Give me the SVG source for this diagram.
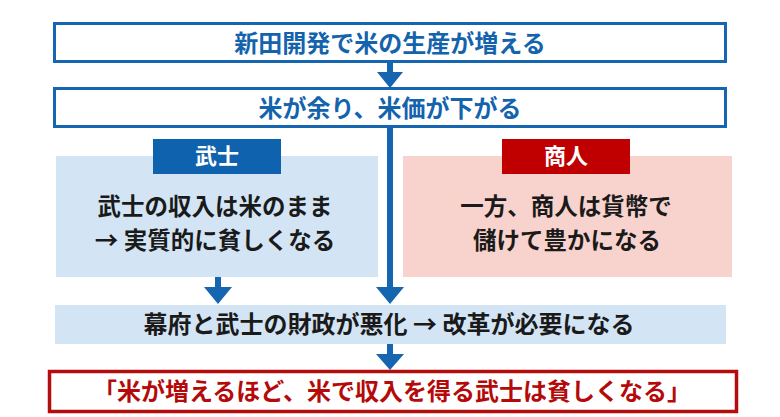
<svg xmlns="http://www.w3.org/2000/svg" width="780" height="417" viewBox="0 0 780 417">
<defs>
<style>
text{font-family:"Noto Sans CJK JP","Noto Sans",sans-serif;font-weight:700;text-anchor:middle}
.blue{fill:#1463ad}
.dark{fill:#1a1a1a}
.white{fill:#ffffff}
.red{fill:#b50a0a}
.bbox{fill:#ffffff;stroke:#1565b0;stroke-width:3}
.arr{fill:#1565b0}
</style>
</defs>
<rect width="780" height="417" fill="#ffffff"/>
<g id="connectors">
<path class="arr" d="M387,62 V72 H377 L390,88 L403,72 H393 V62 Z"/>
<path class="arr" d="M387,127 V287 H376 L390,304 L404,287 H393 V127 Z"/>
<path class="arr" d="M215,277 V287 H204 L218,304 L232,287 H221 V277 Z"/>
<path class="arr" d="M387,344 V354 H376 L390,370 L404,354 H393 V344 Z"/>
</g>
<g id="n1">
<rect class="bbox" x="54.5" y="23.5" width="671" height="38"/>
<text class="blue" x="390" y="52" font-size="24">新田開発で米の生産が増える</text>
</g>
<g id="n2">
<rect class="bbox" x="54.5" y="88.5" width="671" height="38"/>
<text class="blue" x="390" y="117" font-size="24">米が余り、米価が下がる</text>
</g>
<g id="samurai">
<rect x="56" y="156" width="322" height="121" fill="#d3e5f4"/>
<rect x="153" y="139" width="128" height="35" fill="#0f62ad"/>
<text class="white" x="217" y="164" font-size="22">武士</text>
<text class="dark" x="215" y="214.5" font-size="23.5">武士の収入は米のまま</text>
<text class="dark" x="215" y="248.5" font-size="23.5">→ 実質的に貧しくなる</text>
</g>
<g id="merchant">
<rect x="403" y="156" width="329" height="121" fill="#f8d2cc"/>
<rect x="502" y="139" width="128" height="35" fill="#c00000"/>
<text class="white" x="566" y="164" font-size="22">商人</text>
<text class="dark" x="566" y="214.5" font-size="23.5">一方、商人は貨幣で</text>
<text class="dark" x="567" y="248.5" font-size="23.5">儲けて豊かになる</text>
</g>
<g id="n3">
<rect x="55" y="305" width="671" height="39" fill="#d3e5f4"/>
<text class="dark" x="389" y="333" font-size="24">幕府と武士の財政が悪化 → 改革が必要になる</text>
</g>
<g id="n4">
<rect x="49.5" y="371.5" width="687" height="40" fill="#ffffff" stroke="#b30d0d" stroke-width="3.5"/>
<text class="red" x="392" y="400" font-size="24">「米が増えるほど、米で収入を得る武士は貧しくなる」</text>
</g>
</svg>
